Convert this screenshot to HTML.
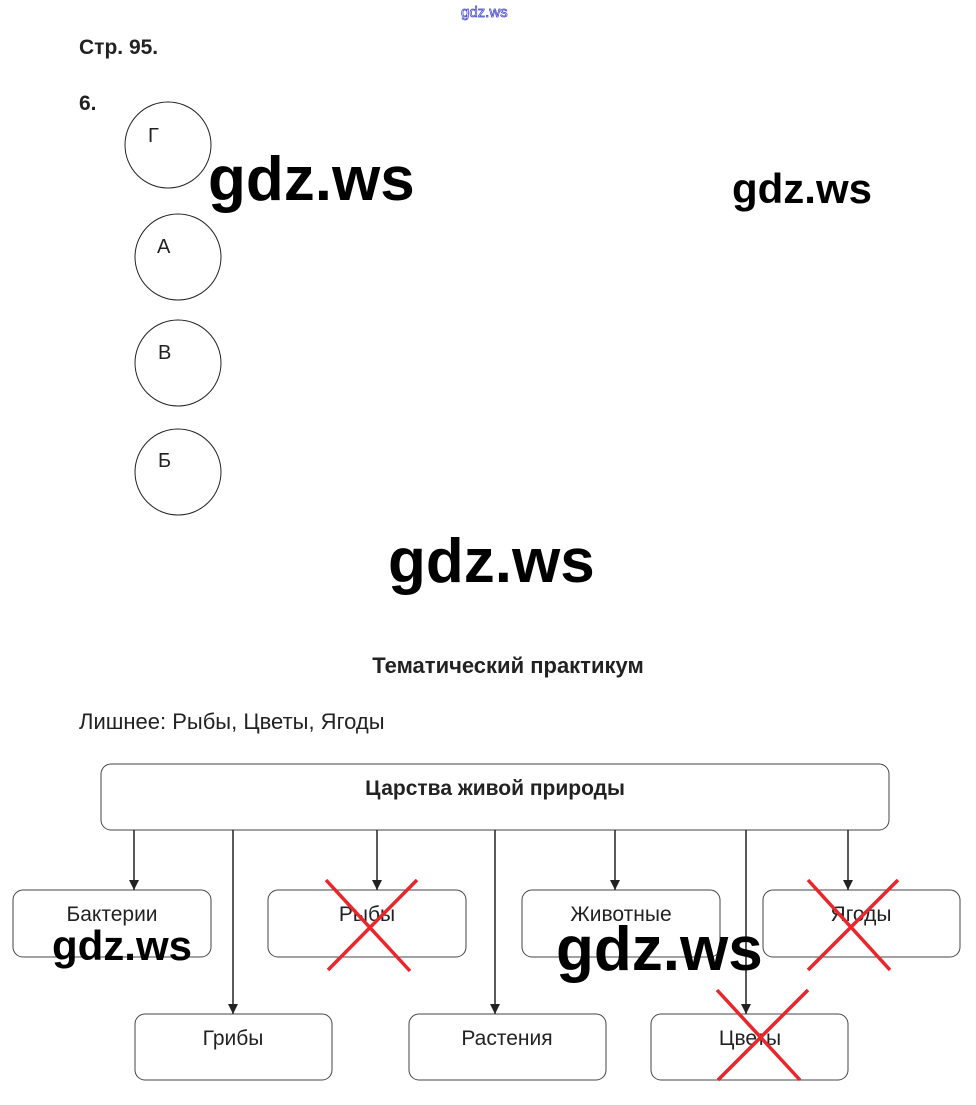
<!DOCTYPE html>
<html><head><meta charset="utf-8"><style>body{margin:0;background:#fff}svg{display:block}</style></head><body>
<svg width="976" height="1105" viewBox="0 0 976 1105" xmlns="http://www.w3.org/2000/svg" font-family="Liberation Sans, sans-serif">
<defs><marker id="a" markerWidth="10" markerHeight="10" refX="10" refY="5" orient="auto" markerUnits="userSpaceOnUse"><path d="M0,0 L10,5 L0,10 z" fill="#222"/></marker></defs>
<text x="461" y="17" font-size="15" fill="#fff" stroke="#3a3acc" stroke-width="0.7">gdz.ws</text>
<text x="79" y="54" font-size="21" font-weight="bold" fill="#222">Стр. 95.</text>
<text x="79" y="110" font-size="21" font-weight="bold" fill="#222">6.</text>
<g fill="none" stroke="#222" stroke-width="1">
<circle cx="168" cy="145" r="43"/><circle cx="178" cy="257" r="43"/><circle cx="178" cy="363" r="43"/><circle cx="178" cy="472" r="43"/>
</g>
<g font-size="20" fill="#222"><text x="148" y="142">Г</text><text x="157" y="253">А</text><text x="158" y="359">В</text><text x="158" y="467">Б</text></g>
<text x="508" y="673" font-size="22" font-weight="bold" fill="#222" text-anchor="middle">Тематический практикум</text>
<text x="79" y="729" font-size="22" fill="#222">Лишнее: Рыбы, Цветы, Ягоды</text>
<g fill="#fff" stroke="#444" stroke-width="1">
<rect x="101" y="764" width="788" height="66" rx="10"/>
<rect x="13" y="890" width="198" height="67" rx="10"/><rect x="268" y="890" width="198" height="67" rx="10"/>
<rect x="522" y="890" width="198" height="67" rx="10"/><rect x="763" y="890" width="197" height="67" rx="10"/>
<rect x="135" y="1014" width="197" height="66" rx="10"/><rect x="409" y="1014" width="197" height="66" rx="10"/><rect x="651" y="1014" width="197" height="66" rx="10"/>
</g>
<g stroke="#222" stroke-width="1.5" marker-end="url(#a)">
<line x1="134" y1="830" x2="134" y2="890"/><line x1="233" y1="830" x2="233" y2="1014"/>
<line x1="377" y1="830" x2="377" y2="890"/><line x1="495" y1="830" x2="495" y2="1014"/>
<line x1="615" y1="830" x2="615" y2="890"/><line x1="746" y1="830" x2="746" y2="1014"/>
<line x1="848" y1="830" x2="848" y2="890"/>
</g>
<text x="495" y="795" font-size="21" font-weight="bold" fill="#222" text-anchor="middle">Царства живой природы</text>
<g font-size="21" fill="#222" text-anchor="middle">
<text x="112" y="921">Бактерии</text><text x="367" y="921">Рыбы</text><text x="621" y="921">Животные</text><text x="861" y="921">Ягоды</text>
<text x="233" y="1045">Грибы</text><text x="507" y="1045">Растения</text><text x="750" y="1045">Цветы</text>
</g>
<g stroke="#e8262b" stroke-width="3.5">
<line x1="326" y1="880" x2="410" y2="971"/><line x1="417" y1="880" x2="328" y2="970"/>
<line x1="808" y1="880" x2="890" y2="970"/><line x1="898" y1="880" x2="808" y2="970"/>
<line x1="717" y1="990" x2="800" y2="1080"/><line x1="808" y1="990" x2="718" y2="1080"/>
</g>
<g font-weight="bold" fill="#000">
<text x="208" y="200" font-size="62">gdz.ws</text>
<text x="732" y="203" font-size="42">gdz.ws</text>
<text x="388" y="582" font-size="62">gdz.ws</text>
<text x="52" y="960" font-size="42">gdz.ws</text>
<text x="556" y="970" font-size="62">gdz.ws</text>
</g>
</svg>
</body></html>
